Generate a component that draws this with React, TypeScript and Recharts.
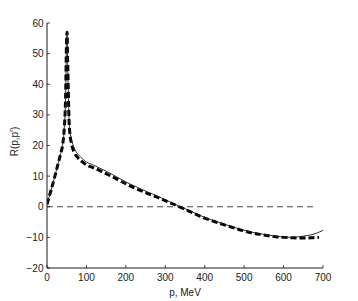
import React from "react";
import { LineChart, Line, XAxis, YAxis, ReferenceLine } from "recharts";

// momentum grid (MeV) and the two curves
const P = [0, 10, 20, 30, 35, 40, 44, 46, 47.5, 48.5, 50, 51, 52, 54, 56, 58, 60, 63, 68, 77, 88, 100, 118, 134, 150, 175, 200, 225, 250, 278, 300, 320, 335, 360, 400, 450, 500, 515, 550, 580, 600, 617, 640, 660, 675, 690, 700];
const SOLID = [0.8, 5.3, 10, 15, 17.5, 20.5, 26, 31, 38, 47, 56, 57, 50, 38, 28, 25, 23, 21.5, 19.5, 17.4, 15.9, 14.6, 13.6, 12.6, 11.6, 9.9, 8.1, 6.6, 5.1, 3.6, 2.3, 1.1, 0.2, -1.2, -3.5, -5.7, -7.7, -8.2, -9.0, -9.6, -9.9, -10.0, -9.8, -9.4, -9.0, -8.3, -7.7];
const DASHED = [0.8, 5.3, 10, 15, 17.5, 20.5, 26, 31, 38, 47, 56, 57, 50, 38, 28, 24, 22, 20, 18, 16.2, 14.8, 13.7, 12.7, 11.8, 10.8, 9.2, 7.5, 6.0, 4.6, 3.2, 2.0, 0.9, 0.0, -1.4, -3.7, -5.9, -7.9, -8.4, -9.2, -9.8, -10.0, -10.1, -10.2, -10.2, -10.1, -10.0, null];

const X_TICKS = [0, 100, 200, 300, 400, 500, 600, 700];
const Y_TICKS = [-20, -10, 0, 10, 20, 30, 40, 50, 60];
const ZERO_SPAN = [0, 685];

const data = P.map((p, i) => ({ p, solid: SOLID[i], dashed: DASHED[i] }));

const FONT = "'Liberation Sans', Arial, Helvetica, sans-serif";
const INK = "#1a1a1a";

const fmt = (v: number) => (v < 0 ? `\u2212${Math.abs(v)}` : `${v}`);

function XTick(props: any) {
  const { x, y, payload } = props;
  return (
    <g>
      <line x1={x} x2={x} y1={y} y2={y - 3} stroke={INK} strokeWidth={0.8} />
      <text x={x} y={y + 12.5} textAnchor="middle" fontSize={10} fontFamily={FONT} fill={INK}>
        {fmt(payload.value)}
      </text>
    </g>
  );
}

function YTick(props: any) {
  const { x, y, payload } = props;
  return (
    <g>
      <line x1={x} x2={x + 3} y1={y} y2={y} stroke={INK} strokeWidth={0.8} />
      <text x={x - 3.5} y={y + 3.6} textAnchor="end" fontSize={10} fontFamily={FONT} fill={INK}>
        {fmt(payload.value)}
      </text>
    </g>
  );
}

export default function App() {
  return (
    <div style={{ position: "fixed", left: 0, top: 0, width: 358, height: 301, background: "#fff" }}>
      <LineChart width={358} height={301} data={data} margin={{ top: 23, right: 35, left: 0, bottom: 0 }}>
        <XAxis
          dataKey="p"
          type="number"
          domain={[0, 700]}
          ticks={X_TICKS}
          allowDataOverflow
          height={33}
          stroke={INK}
          tickSize={0}
          tickMargin={0}
          tick={<XTick />}
          label={{ value: "p, MeV", position: "insideBottom", offset: 5, fontSize: 10, fontFamily: FONT, fill: INK }}
        />
        <YAxis
          type="number"
          domain={[-20, 60]}
          ticks={Y_TICKS}
          allowDataOverflow
          width={47}
          stroke={INK}
          tickSize={0}
          tickMargin={0}
          tick={<YTick />}
          label={{
            content: (props: any) => {
              const vb = props.viewBox || {};
              const cy = (vb.y ?? 23) + (vb.height ?? 245) / 2 - 4;
              return (
                <text
                  x={14}
                  y={cy}
                  transform={`rotate(-90, 14, ${cy})`}
                  textAnchor="middle"
                  dominantBaseline="central"
                  fontSize={10}
                  fontFamily={FONT}
                  fill={INK}
                >
                  R(p,p′)
                </text>
              );
            },
          }}
        />
        <ReferenceLine
          segment={[{ x: ZERO_SPAN[0], y: 0 }, { x: ZERO_SPAN[1], y: 0 }]}
          stroke={INK}
          strokeWidth={0.8}
          strokeDasharray="6 4"
        />
        <Line
          dataKey="dashed"
          type="monotone"
          stroke="#000"
          strokeWidth={3}
          strokeDasharray="6 3"
          dot={false}
          connectNulls={false}
          isAnimationActive={false}
        />
        <Line
          dataKey="solid"
          type="monotone"
          stroke={INK}
          strokeWidth={0.9}
          dot={false}
          isAnimationActive={false}
        />
      </LineChart>
    </div>
  );
}
